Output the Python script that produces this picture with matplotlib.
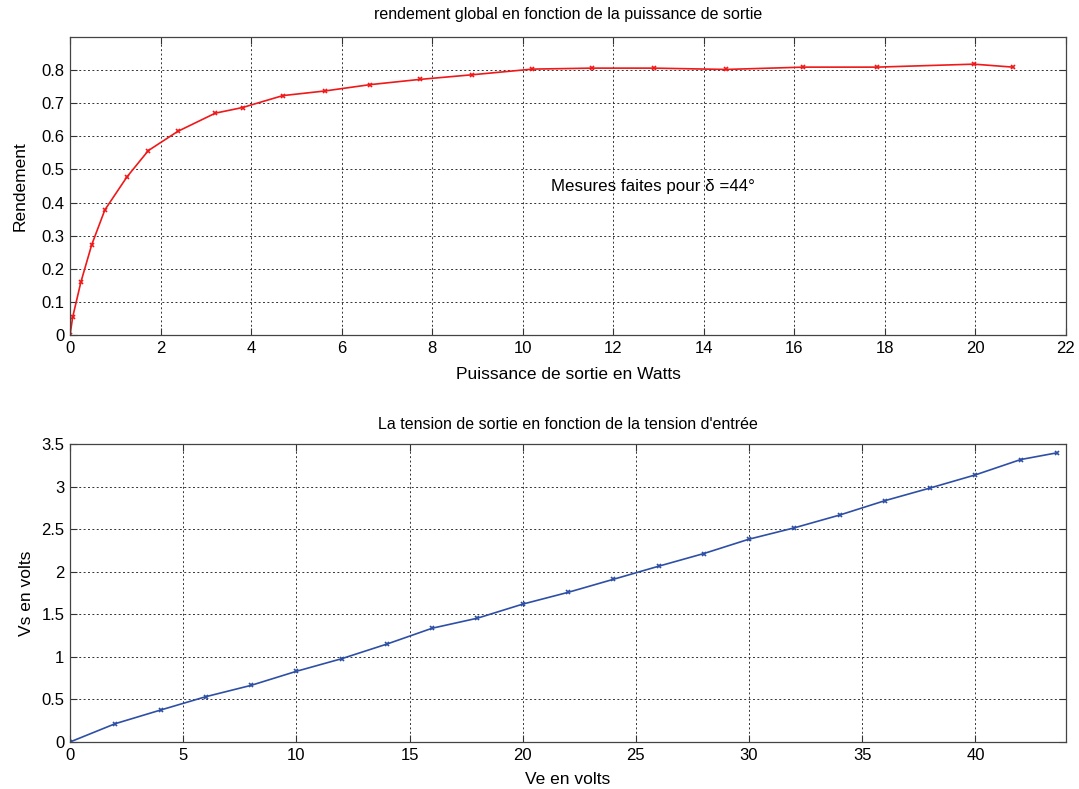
import matplotlib.pyplot as plt
import numpy as np

plt.rcParams['font.family'] = ['Liberation Sans', 'DejaVu Sans']

# rendement vs puissance de sortie (delta = 44 deg)
puissance = [0, 0.06, 0.24, 0.48, 0.77, 1.26, 1.73, 2.38, 3.21, 3.81, 4.70,
             5.63, 6.62, 7.73, 8.89, 10.21, 11.53, 12.89, 14.49, 16.2, 17.82,
             19.97, 20.83]
rendement = [0, 0.055, 0.16, 0.273, 0.378, 0.478, 0.557, 0.615, 0.67, 0.687,
             0.723, 0.737, 0.756, 0.772, 0.786, 0.803, 0.806, 0.806, 0.802,
             0.809, 0.809, 0.818, 0.809]

# tension de sortie vs tension d'entree
ve = [0, 2, 4, 6, 8, 10, 12, 14, 16, 18, 20, 22, 24, 26, 28, 30, 32, 34, 36,
      38, 40, 42, 43.6]
vs = [0, 0.215, 0.375, 0.532, 0.665, 0.83, 0.978, 1.15, 1.336, 1.454, 1.619,
      1.757, 1.91, 2.064, 2.213, 2.382, 2.515, 2.665, 2.834, 2.983, 3.137,
      3.317, 3.396]

fig = plt.figure(figsize=(10.79, 7.89), dpi=100)
ax1 = fig.add_axes([0.0649, 0.5754, 0.923, 0.3777])
ax2 = fig.add_axes([0.0649, 0.0596, 0.923, 0.3777])

ax1.plot(puissance, rendement, '-x', color='#f01818', lw=1.2, ms=3.5, mew=1.2)
ax1.set_xlim(0, 22)
ax1.set_ylim(0, 0.9)
ax1.set_xticks(np.arange(0, 23, 2))
ax1.set_yticks(np.arange(0, 0.81, 0.1))
ax1.set_yticklabels(['0', '0.1', '0.2', '0.3', '0.4', '0.5', '0.6', '0.7', '0.8'])
ax1.set_title('rendement global en fonction de la puissance de sortie', fontsize=11.5, pad=13)
ax1.set_xlabel('Puissance de sortie en Watts', fontsize=12.5, labelpad=8)
ax1.set_ylabel('Rendement', fontsize=12.5, labelpad=10)
ax1.text(10.63, 0.448, 'Mesures faites pour δ =44°', fontsize=12.2, va='center', ha='left')

ax2.plot(ve, vs, '-x', color='#2e4fa6', lw=1.2, ms=3.5, mew=1.2)
ax2.set_xlim(0, 44)
ax2.set_ylim(0, 3.5)
ax2.set_xticks(np.arange(0, 41, 5))
ax2.set_yticks(np.arange(0, 3.51, 0.5))
ax2.set_yticklabels(['0', '0.5', '1', '1.5', '2', '2.5', '3', '3.5'])
ax2.set_title("La tension de sortie en fonction de la tension d'entrée", fontsize=11.5, pad=11)
ax2.set_xlabel('Ve en volts', fontsize=12.5, labelpad=7)
ax2.set_ylabel('Vs en volts', fontsize=12.5, labelpad=5)

for ax in (ax1, ax2):
    ax.grid(True, color='#333333', linestyle=(0, (2, 2.5)), lw=0.7)
    ax.tick_params(direction='in', top=True, right=True, length=5, labelsize=12,
                   color='#333333', pad=4)
    for s in ax.spines.values():
        s.set_color('#444444')
        s.set_linewidth(0.9)

fig.savefig('out.png', dpi=100)
